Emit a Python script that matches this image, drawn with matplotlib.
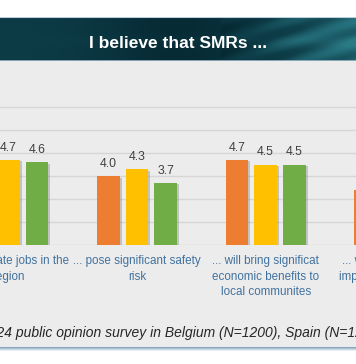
import matplotlib
matplotlib.use("Agg")
import matplotlib.pyplot as plt
import matplotlib.patheffects as pe
from matplotlib.colors import LinearSegmentedColormap
from matplotlib.patches import Rectangle
import numpy as np

# survey means on a 1-7 scale
categories = ["... will create jobs in the\nregion",
              "... pose significant safety\nrisk",
              "... will bring significat\neconomic benefits to\nlocal communites",
              "... will have negative\nimpacts on the region"]
series_names = ["Belgium", "Spain", "Slovakia"]
belgium = [4.8, 4.0, 4.7, 3.4]
spain = [4.7, 4.3, 4.5, 3.6]
third = [4.6, 3.7, 4.5, 3.3]
series_colors = ["#ED7D31", "#FFC000", "#70AD47"]

title = "I believe that SMRs ..."
footer = "2024 public opinion survey in Belgium (N=1200), Spain (N=1200), Slovakia (N=1200)"

W, H = 356, 364
fig = plt.figure(figsize=(W / 100, H / 100), dpi=100)
fig.patch.set_facecolor("white")
plt.rcParams["font.family"] = ["Liberation Sans", "DejaVu Sans"]

def fy(p):
    return 1 - p / H

# grey panel
fig.patches.append(Rectangle((0, fy(347)), 1, fy(61) - fy(347), transform=fig.transFigure,
                             facecolor="#ececec", edgecolor="none", zorder=-5))
# bottom shadow strip
for i, c in enumerate(["#8aa6bf", "#a9bfd2", "#cbd9e5", "#e8eef4"]):
    fig.patches.append(Rectangle((0, fy(348 + i)), 1, 1 / H, transform=fig.transFigure,
                                 facecolor=c, edgecolor="none", zorder=-5))

# title banner
bax = fig.add_axes([0, fy(61), 1, fy(17) - fy(61)])
bax.set_axis_off()
bax.set_zorder(1)
xx, yy = np.meshgrid(np.linspace(0, 1, 356), np.linspace(0, 1, 44))
tex = 0.38 - 0.12 * np.exp(-((xx - 0.5) ** 2) / 0.05) + 0.45 * np.clip(xx - 0.62, 0, None)
tex += 0.05 * np.sin(40 * (xx * 0.8 + yy * 0.3)) * (xx > 0.62)
tex += 0.06 * np.exp(-((yy - 0.55) ** 2) / 0.02) * xx
banner_cmap = LinearSegmentedColormap.from_list("b", ["#052630", "#0e404b", "#2a7a86"])
bax.imshow(tex, cmap=banner_cmap, aspect="auto", extent=(0, 1, 0, 1), vmin=0.22, vmax=0.62)
bax.axhline(0.99, color="#b9cfdc", lw=1.5)
bax.axhline(0.01, color="#9fb8c8", lw=1.2)
bax.set_xlim(0, 1)
bax.set_ylim(0, 1)
fig.text(0.5, fy(43), title, color="white", fontsize=12.5, fontweight="bold",
         ha="center", va="center", zorder=5)

# bar chart
ax = fig.add_axes([0, fy(245), 1, fy(100) - fy(245)])
ax.set_zorder(2)
ax.set_facecolor("none")
for s in ax.spines.values():
    s.set_visible(False)

x = np.arange(len(categories))
width = 0.175
step = 0.223
shadow = [pe.SimplePatchShadow(offset=(1.5, -1), shadow_rgbFace="#777777", alpha=0.35),
          pe.Normal()]
for i, (vals, col) in enumerate(zip([belgium, spain, third], series_colors)):
    pos = x + (i - 1) * step
    bars = ax.bar(pos, np.array(vals) - 1, width, bottom=1, color=col,
                  label=series_names[i], zorder=3)
    for b, v, p in zip(bars, vals, pos):
        b.set_path_effects(shadow)
        ax.annotate(f"{v:.1f}", (p, v), xytext=(0, 4.5), textcoords="offset points",
                    ha="center", va="bottom", fontsize=8.8, color="#404040")

# category labels as annotations so the cropped last group keeps its label
for xi, lab in zip(x, categories):
    ax.annotate(lab, (xi, 0), xycoords=("data", "axes fraction"), xytext=(0, -7.5),
                textcoords="offset points", ha="center", va="top", fontsize=8.4,
                color="#41729f", linespacing=1.35, annotation_clip=False)

ax.set_xticks([])
ax.set_yticks(range(1, 8))
ax.yaxis.grid(True, color="#d6d6d6", lw=1)
ax.set_axisbelow(True)
ax.tick_params(left=False, labelleft=False, bottom=False)
# the picture is a crop: only part of the chart is visible
ax.set_xlim(-0.0645, 2.702)
ax.set_ylim(1, 7.318)

fig.text(-19 / W, fy(333), footer, fontsize=10, style="italic", color="#262626",
         ha="left", va="center", zorder=5)

fig.savefig("out.png", dpi=100)
